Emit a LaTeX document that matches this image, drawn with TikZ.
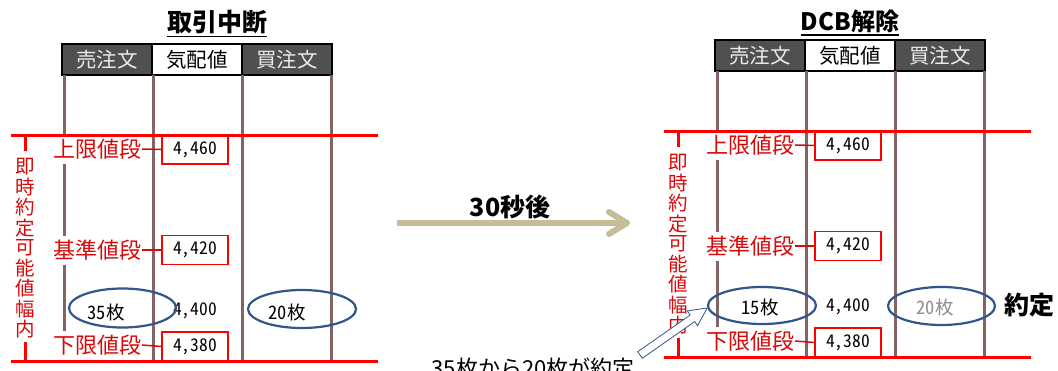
\documentclass[tikz,border=0pt]{standalone}
\usepackage{fontspec}
\setmainfont{Noto Sans CJK JP}
\newfontfamily\numfont{Noto Sans CJK JP}[RawFeature=+hwid]
\usetikzlibrary{calc,shapes.geometric}
\definecolor{hdrgray}{RGB}{80,80,80}
\definecolor{hdrtext}{RGB}{235,235,235}
\definecolor{colline}{RGB}{130,100,100}
\definecolor{myred}{RGB}{255,0,0}
\definecolor{lblred}{RGB}{215,10,10}
\definecolor{ellblue}{RGB}{50,85,140}
\definecolor{tanarrow}{RGB}{196,189,151}
\definecolor{graytxt}{RGB}{140,140,140}
\tikzset{
  hdrcell/.style={draw=black, line width=2pt, fill=hdrgray, text=hdrtext, minimum width=90pt, minimum height=31pt, inner sep=0pt, font=\fontsize{20.5}{20.5}\selectfont},
  colrule/.style={draw=colline, line width=3pt},
  redrule/.style={draw=myred, line width=3pt},
  pricebox/.style={draw=myred, line width=1.5pt, fill=white, minimum width=66pt, minimum height=29pt, inner sep=0pt, font=\numfont\fontsize{17.5}{17.5}\selectfont},
  pricetxt/.style={inner sep=0pt, font=\numfont\fontsize{17.5}{17.5}\selectfont},
  lbl/.style={text=lblred, fill=white, inner sep=0pt, minimum height=29pt, font=\fontsize{22}{22}\selectfont},
  tick/.style={draw=lblred, line width=1.5pt},
  vtxt/.style={text=lblred, inner sep=0pt, font=\fontsize{19.5}{19.5}\selectfont},
  qty/.style={draw=ellblue, ellipse, line width=2.2pt, inner sep=0pt},
  qtytxt/.style={inner sep=0pt, font=\numfont\fontsize{18.5}{18.5}\selectfont},
  ttl/.style={inner sep=0pt, font=\fontsize{25}{25}\selectfont\bfseries},
}
\newcommand\orderpanel[1]{%
  \node[hdrcell] (#1sell) at (107,59.5) {売注文};
  \node[hdrcell,fill=white,text=black] (#1quote) at (197,59.5) {気配値};
  \node[hdrcell] (#1buy) at (287,59.5) {買注文};
  \draw[colrule] (64,75) -- (64,332);
  \draw[colrule] (153,75) -- (153,361);
  \draw[colrule] (242,75) -- (242,361);
  \draw[colrule] (331,75) -- (331,361);
  \node[lbl, anchor=east] (#1up) at (142,149) {上限値段};
  \node[lbl, anchor=east] (#1base) at (142,250) {基準値段};
  \node[lbl, anchor=east] (#1low) at (142,345) {下限値段};
  \node[pricebox] (#1p4460) at (195,149.5) {4,460};
  \node[pricebox] (#1p4420) at (195,250) {4,420};
  \node[pricebox] (#1p4380) at (195,346.5) {4,380};
  \draw[tick] (#1up.east) -- (#1p4460.west);
  \draw[tick] (#1base.east) -- (#1p4420.west);
  \draw[tick] (#1low.east) -- (#1p4380.west);
  \node[pricetxt] (#1p4400) at (195,311) {4,400};
  \coordinate (#1topL) at (11,135);
  \coordinate (#1topR) at (378,135);
  \coordinate (#1botL) at (11,361);
  \coordinate (#1botR) at (378,361);
  \draw[redrule] (#1topL) -- (#1topR);
  \draw[redrule] (#1botL) -- (#1botR);
  \coordinate (#1tA) at (25,135);
  \coordinate (#1tB) at (25,151);
  \coordinate (#1tC) at (25,342);
  \coordinate (#1tD) at (25,361);
  \draw[redrule] (#1tA) -- (#1tB);
  \draw[redrule] (#1tC) -- (#1tD);
  \foreach \ch [count=\i from 0] in {即,時,約,定,可,能,値,幅,内}
    \node[vtxt] (#1v\i) at (25,{167+20.25*\i}) {\ch};
}
\begin{document}
\begin{tikzpicture}[x=1pt,y=-1pt]
\useasboundingbox[fill=white] (0,0) rectangle (1058,370);

% titles
\node[ttl] (t1) at (217,22) {取引中断};
\draw[line width=1.6pt] ([yshift=-5pt]t1.base west) -- ([yshift=-5pt]t1.base east);
\node[ttl, font=\fontsize{24}{24}\selectfont\bfseries] (t2) at (850,21) {DCB解除};
\draw[line width=1.6pt] ([yshift=-5pt]t2.base west) -- ([yshift=-5pt]t2.base east);

% left panel
\begin{scope}
\orderpanel{L}
\end{scope}
\node[qty, minimum width=107pt, minimum height=39pt] (Lsellq) at (122.5,308) {};
\node[qtytxt] (Lsellt) at (106,312) {35枚};
\node[qty, minimum width=108pt, minimum height=38pt] (Lbuyq) at (302,309) {};
\node[qtytxt] (Lbuyt) at (287,312) {20枚};

% right panel
\begin{scope}[shift={(653,-4)}]
\orderpanel{R}
\end{scope}
\node[qty, minimum width=108pt, minimum height=37pt] (Rsellq) at (762,305.5) {};
\node[qtytxt] (Rsellt) at (760,307) {15枚};
\node[qty, minimum width=107pt, minimum height=38pt] (Rbuyq) at (941.5,306) {};
\node[qtytxt, text=graytxt] (Rbuyt) at (935,307) {20枚};
\node[ttl, font=\fontsize{25}{25}\selectfont\bfseries] (yaku) at (1029,305) {約定};

% middle arrow
\coordinate (arS) at (397,223);
\coordinate (arE) at (626,223);
\draw[tanarrow, line width=6pt] (arS) -- (arE);
\draw[tanarrow, line width=6pt, line join=round, line cap=round] ([shift={(-17,-11)}]arE) -- ([shift={(1,0)}]arE) -- ([shift={(-17,11)}]arE);
\node[ttl] (sec) at (510,207) {30秒後};

% callout
\node[inner sep=0pt, font=\fontsize{22}{22}\selectfont] (note) at (533,368) {35枚から20枚が約定};
\begin{scope}[shift={(640,355)}, rotate=35]
\draw[ellblue, line width=0.8pt, fill=white] (0,-4) -- (64,-4) -- (64,-9) -- (82,0) -- (64,9) -- (64,4) -- (0,4) -- cycle;
\end{scope}
\end{tikzpicture}
\end{document}
